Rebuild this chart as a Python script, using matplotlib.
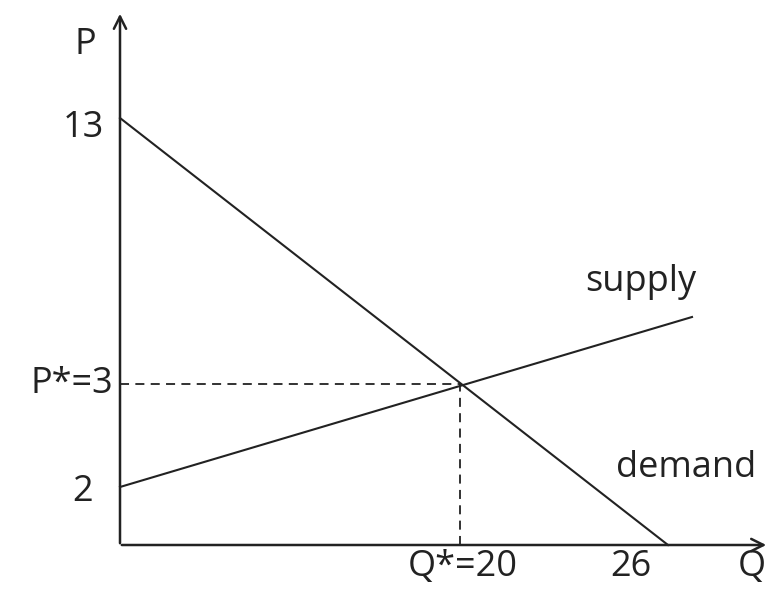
import matplotlib.pyplot as plt

# schematic coordinates (drawing units, origin at the axes corner)
demand_x = [0, 548]
demand_y = [427, 0]
supply_x = [0, 572]
supply_y = [58, 228]
eq_x, eq_y = 340, 161

# axis labels placed at drawing positions
y_ticks = [(417, "13"), (53, "2")]
x_ticks = [(343, "Q*=20"), (511, "26")]

plt.rcParams['font.family'] = ['Open Sans', 'DejaVu Sans']
fs = 26
col = "#222222"

fig = plt.figure(figsize=(7.7, 5.95), dpi=100)
ax = fig.add_axes([0, 0, 1, 1])
ax.set_xlim(-120, 650)
ax.set_ylim(-50, 545)
ax.axis("off")

# axes with open arrow heads
ax.annotate("", xy=(0, 534), xytext=(0, -1),
            arrowprops=dict(arrowstyle="->", lw=1.8, color=col, mutation_scale=22))
ax.annotate("", xy=(649, 0), xytext=(-1, 0),
            arrowprops=dict(arrowstyle="->", lw=1.8, color=col, mutation_scale=22))

ax.plot(demand_x, demand_y, color=col, lw=1.5)
ax.plot(supply_x, supply_y, color=col, lw=1.5)
ax.plot([0, eq_x], [eq_y, eq_y], color=col, lw=1.3, ls=(0, (5, 3.5)))
ax.plot([eq_x, eq_x], [0, eq_y], color=col, lw=1.3, ls=(0, (5, 3.5)))

for y, s in y_ticks:
    ax.text(-37, y, s, fontsize=fs, ha="center", va="center", color=col)
ax.text(-7, eq_y, "P*=3", fontsize=fs, ha="right", va="center", color=col)
for x, s in x_ticks:
    ax.text(x, -22, s, fontsize=fs, ha="center", va="center", color=col)

ax.text(-35, 500, "P", fontsize=fs, ha="center", va="center", color=col)
ax.text(632, -22, "Q", fontsize=fs, ha="center", va="center", color=col)
ax.text(521, 263, "supply", fontsize=fs, ha="center", va="center", color=col)
ax.text(566, 77, "demand", fontsize=fs, ha="center", va="center", color=col)

fig.savefig("out.png", dpi=100)
